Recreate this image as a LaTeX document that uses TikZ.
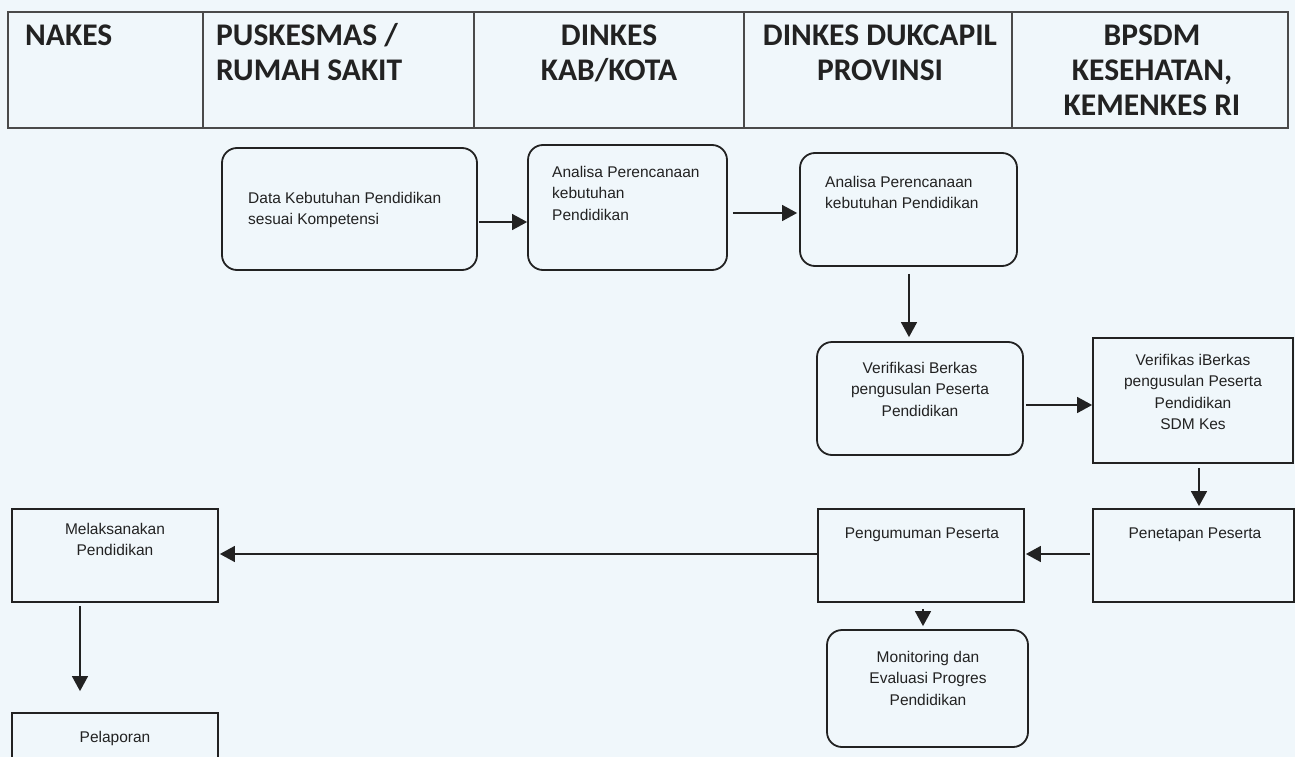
\documentclass[tikz,border=0pt]{standalone}
\usepackage{fontspec}
\setmainfont{Liberation Sans}
\newfontfamily\hdrfont{Carlito}
\usetikzlibrary{arrows.meta,calc}
\definecolor{bgc}{HTML}{F0F7FB}
\definecolor{ink}{HTML}{222222}
\definecolor{hline}{HTML}{4A4A4A}
\begin{document}
\begin{tikzpicture}[x=1pt,y=-1pt,
  hcell/.style={draw=hline, line width=1.3pt, minimum height=116pt, inner sep=0pt},
  htxt/.style={font=\hdrfont\bfseries\fontsize{31.5}{35}\selectfont, text=ink, inner sep=0pt},
  rbox/.style={draw=ink, line width=1.8pt, rounded corners=15pt, inner sep=0pt},
  sbox/.style={draw=ink, line width=1.8pt, inner sep=0pt},
  btxt/.style={font=\fontsize{15.5}{21.5}\selectfont, text=ink, inner sep=0pt},
  arr/.style={draw=ink, line width=1.5pt, -{Triangle[length=15pt,width=16pt]}}]
\useasboundingbox (0,0) rectangle (1295,757);
\fill[bgc] (0,0) rectangle (1295,757);
% header
\node[hcell, minimum width=195pt] (h1) at (105.5,70) {};
\node[hcell, minimum width=271pt] (h2) at (338.5,70) {};
\node[hcell, minimum width=270pt] (h3) at (609,70) {};
\node[hcell, minimum width=268pt] (h4) at (878,70) {};
\node[hcell, minimum width=276pt] (h5) at (1150,70) {};
\node[htxt, anchor=base west] (t1) at (25,46) {NAKES};
\node[htxt, anchor=base west, align=left] (t2) at (216,81) {PUSKESMAS /\\RUMAH SAKIT};
\node[htxt, anchor=base, align=center] (t3) at (609,81) {DINKES\\KAB/KOTA};
\node[htxt, anchor=base, align=center] (t4) at (880,81) {DINKES DUKCAPIL\\PROVINSI};
\node[htxt, anchor=base, align=center] (t5) at (1152,116) {BPSDM\\KESEHATAN,\\KEMENKES RI};
% boxes
\node[rbox, minimum width=255pt, minimum height=122pt] (b1) at (349.5,209) {};
\node[btxt, anchor=base west, align=left] (l1) at (248,224.5) {Data Kebutuhan Pendidikan\\sesuai Kompetensi};
\node[rbox, minimum width=199pt, minimum height=125pt] (b2) at (627.5,207.5) {};
\node[btxt, anchor=base west, align=left] (l2) at (552,220) {Analisa Perencanaan\\kebutuhan\\Pendidikan};
\node[rbox, minimum width=217pt, minimum height=113pt] (b3) at (908.5,209.5) {};
\node[btxt, anchor=base west, align=left] (l3) at (825,208.5) {Analisa Perencanaan\\kebutuhan Pendidikan};
\node[rbox, minimum width=206pt, minimum height=113pt] (b4) at (920,398.5) {};
\node[btxt, anchor=base, align=center] (l4) at (920,416) {Verifikasi Berkas\\pengusulan Peserta\\Pendidikan};
\node[sbox, minimum width=200pt, minimum height=125pt] (b5) at (1193,400.5) {};
\node[btxt, anchor=base, align=center] (l5) at (1193,429.5) {Verifikas iBerkas\\pengusulan Peserta\\Pendidikan\\SDM Kes};
\node[sbox, minimum width=201pt, minimum height=93pt] (b6) at (1193.5,555.5) {};
\node[btxt, anchor=base] (l6) at (1195,538) {Penetapan Peserta};
\node[sbox, minimum width=206pt, minimum height=93pt] (b7) at (921,555.5) {};
\node[btxt, anchor=base] (l7) at (922,538) {Pengumuman Peserta};
\node[rbox, minimum width=201pt, minimum height=117pt] (b8) at (927.5,688.5) {};
\node[btxt, anchor=base, align=center] (l8) at (928,705) {Monitoring dan\\Evaluasi Progres\\Pendidikan};
\node[sbox, minimum width=206pt, minimum height=93pt] (b9) at (115,555.5) {};
\node[btxt, anchor=base, align=center] (l9) at (115,555.5) {Melaksanakan\\Pendidikan};
\node[sbox, minimum width=206pt, minimum height=70pt] (b10) at (115,748) {};
\node[btxt, anchor=base] (l10) at (115,742) {Pelaporan};
% arrows
\draw[arr] ($(b1.east)+(1,13)$) -- ($(b1.east -| b2.west)+(0,13)$);
\draw[arr] ($(b2.east)+(5,5.5)$) -- ($(b2.east -| b3.west)+(-2,5.5)$);
\draw[arr] ($(b3.south)+(0.5,7)$) -- ($(b4.north -| b3.south)+(0.5,-4)$);
\draw[arr] ($(b4.east)+(2,6.5)$) -- ($(b4.east -| b5.west)+(0,6.5)$);
\draw[arr] ($(b5.south)+(6,4)$) -- ($(b6.north -| b5.south)+(6,-2)$);
\draw[arr] ($(b6.west)+(-2,-1.5)$) -- ($(b7.east)+(1,-1.5)$);
\draw[arr] ($(b7.west)+(0,-1.5)$) -- ($(b9.east)+(1,-1.5)$);
\draw[arr] ($(b7.south)+(2,6)$) -- ($(b8.north -| b7.south)+(2,-3)$);
\draw[arr] ($(b9.south)+(-35,3)$) -- ($(b10.north -| b9.south)+(-35,-21)$);
\end{tikzpicture}
\end{document}
